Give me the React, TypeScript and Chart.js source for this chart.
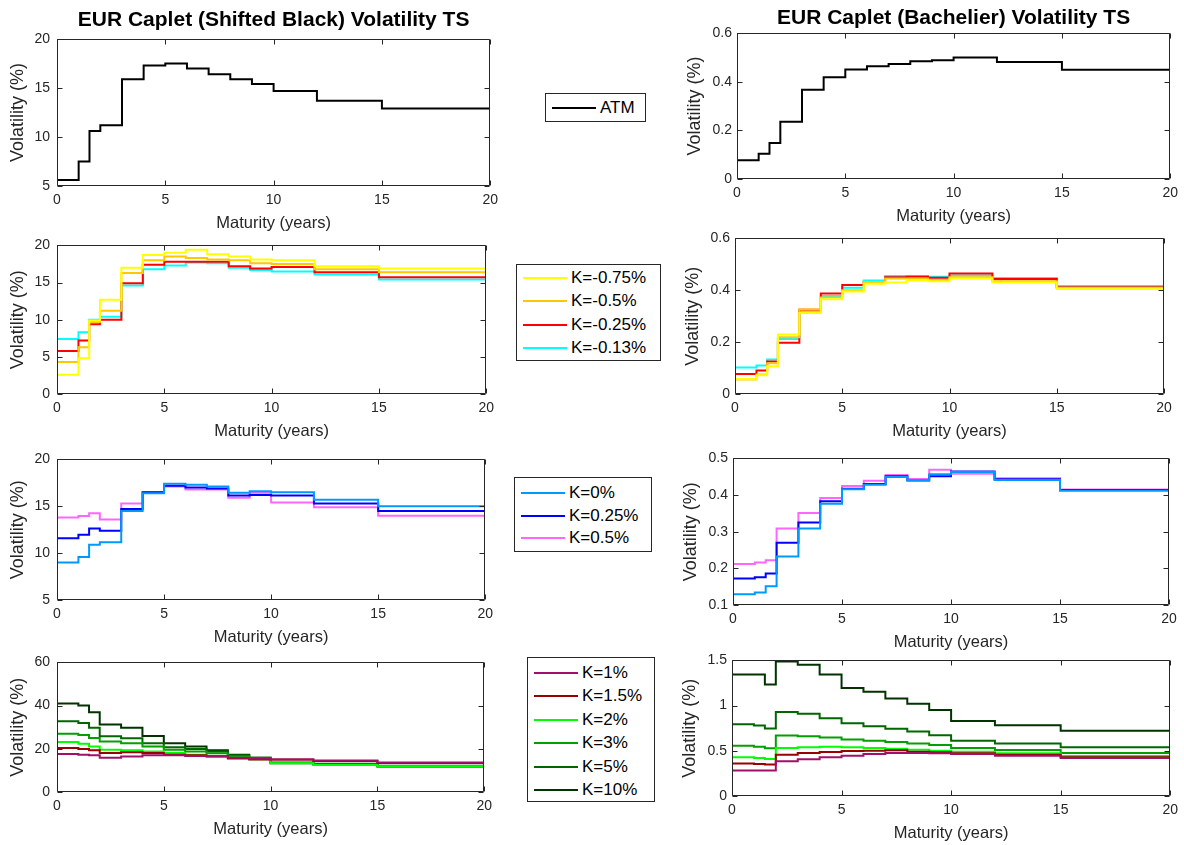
import React, { useEffect, useRef } from 'react';
import { Chart, registerables } from 'chart.js';

Chart.register(...registerables);

const FONT = '"Liberation Sans", Arial, Helvetica, sans-serif';
const AXIS_COLOR = '#262626';

// ---------------- data ----------------
const maturities = [0, 1, 1.5, 2, 3, 4, 5, 6, 7, 8, 9, 10, 12, 15, 20];
const xTicks = [0, 5, 10, 15, 20];

// ATM
const atmBlack = [5.6, 7.5, 10.6, 11.2, 15.9, 17.3, 17.5, 17.0, 16.4, 15.9, 15.4, 14.7, 13.7, 12.9, 12.9];
const atmNormal = [0.077, 0.104, 0.148, 0.235, 0.367, 0.418, 0.45, 0.463, 0.473, 0.484, 0.488, 0.499, 0.481, 0.449, 0.449];

// negative strikes
const blackKm075 = [2.6, 4.8, 9.9, 12.7, 17.0, 18.7, 19.0, 19.4, 18.8, 18.5, 18.1, 18.0, 17.2, 16.9, 16.9];
const blackKm050 = [4.3, 6.3, 9.7, 11.2, 16.3, 18.0, 18.5, 18.3, 18.1, 18.0, 17.6, 17.5, 16.8, 16.4, 16.4];
const blackKm025 = [5.8, 7.2, 9.4, 10.0, 14.9, 17.4, 17.8, 17.8, 17.8, 17.2, 16.9, 17.1, 16.4, 15.7, 15.7];
const blackKm013 = [7.4, 8.3, 10.0, 10.4, 14.6, 16.8, 17.3, 17.7, 17.6, 17.0, 16.7, 16.5, 16.1, 15.4, 15.4];

const normalKm075 = [0.058, 0.072, 0.107, 0.229, 0.312, 0.365, 0.395, 0.425, 0.43, 0.438, 0.435, 0.445, 0.43, 0.405, 0.405];
const normalKm050 = [0.056, 0.075, 0.119, 0.219, 0.326, 0.372, 0.4, 0.432, 0.445, 0.445, 0.44, 0.45, 0.435, 0.41, 0.41];
const normalKm025 = [0.077, 0.091, 0.125, 0.198, 0.325, 0.388, 0.42, 0.432, 0.45, 0.452, 0.448, 0.465, 0.443, 0.412, 0.412];
const normalKm013 = [0.102, 0.11, 0.133, 0.212, 0.315, 0.378, 0.41, 0.438, 0.455, 0.455, 0.452, 0.457, 0.447, 0.416, 0.416];

// low strikes
const blackK0 = [9.0, 9.6, 10.9, 11.15, 14.5, 16.4, 17.4, 17.3, 17.1, 16.45, 16.6, 16.5, 15.7, 15.0, 15.0];
const blackK025 = [11.6, 11.95, 12.64, 12.4, 14.7, 16.5, 17.2, 17.0, 16.9, 16.15, 16.2, 16.15, 15.3, 14.5, 14.5];
const blackK050 = [13.8, 13.95, 14.26, 13.6, 15.3, 16.5, 17.1, 16.8, 16.8, 15.9, 16.45, 15.4, 14.9, 14.0, 14.0];

const normalK0 = [0.129, 0.134, 0.151, 0.232, 0.309, 0.376, 0.416, 0.428, 0.449, 0.441, 0.457, 0.463, 0.441, 0.412, 0.412];
const normalK025 = [0.172, 0.176, 0.186, 0.27, 0.325, 0.383, 0.417, 0.43, 0.451, 0.44, 0.451, 0.464, 0.443, 0.414, 0.414];
const normalK050 = [0.212, 0.216, 0.222, 0.309, 0.351, 0.392, 0.425, 0.439, 0.455, 0.444, 0.469, 0.458, 0.446, 0.415, 0.415];

// high strikes
const blackK1 = [17.6, 17.3, 17.0, 15.8, 16.4, 17.0, 17.0, 16.7, 16.4, 15.8, 15.4, 15.1, 14.6, 13.7, 13.7];
const blackK15 = [20.4, 19.9, 19.3, 18.1, 18.4, 18.1, 17.3, 17.0, 16.6, 15.5, 15.1, 15.1, 14.3, 13.4, 13.4];
const blackK2 = [23.1, 22.3, 21.1, 19.6, 19.3, 18.8, 18.1, 17.2, 16.6, 15.8, 15.2, 13.3, 12.5, 11.9, 11.9];
const blackK3 = [27.0, 26.4, 25.0, 23.4, 22.6, 21.1, 19.6, 18.8, 17.9, 16.4, 15.5, 13.4, 12.7, 11.9, 11.9];
const blackK5 = [32.7, 32.0, 29.7, 25.8, 24.9, 22.6, 20.7, 19.9, 18.8, 17.0, 15.8, 13.6, 13.1, 12.2, 12.2];
const blackK10 = [41.0, 40.0, 36.9, 31.2, 29.7, 25.9, 22.6, 21.1, 19.3, 17.3, 15.8, 13.3, 12.8, 11.8, 11.8];

const normalK1 = [0.282, 0.282, 0.282, 0.384, 0.406, 0.428, 0.446, 0.465, 0.476, 0.476, 0.472, 0.465, 0.446, 0.421, 0.421];
const normalK15 = [0.359, 0.355, 0.348, 0.457, 0.476, 0.487, 0.498, 0.501, 0.505, 0.49, 0.483, 0.472, 0.457, 0.428, 0.428];
const normalK2 = [0.428, 0.421, 0.41, 0.531, 0.538, 0.545, 0.538, 0.531, 0.523, 0.512, 0.501, 0.49, 0.472, 0.443, 0.443];
const normalK3 = [0.556, 0.545, 0.527, 0.67, 0.662, 0.648, 0.626, 0.611, 0.596, 0.582, 0.563, 0.531, 0.509, 0.476, 0.476];
const normalK5 = [0.794, 0.779, 0.746, 0.929, 0.911, 0.86, 0.805, 0.772, 0.743, 0.713, 0.673, 0.611, 0.582, 0.538, 0.538];
const normalK10 = [1.343, 1.343, 1.233, 1.489, 1.453, 1.343, 1.196, 1.153, 1.079, 1.021, 0.951, 0.83, 0.783, 0.721, 0.721];

// tick values
const yTicksBlackAtm = [5, 10, 15, 20];
const yTicksNormalAtm = [0, 0.2, 0.4, 0.6];
const yTicksBlackNeg = [0, 5, 10, 15, 20];
const yTicksNormalNeg = [0, 0.2, 0.4, 0.6];
const yTicksBlackLow = [5, 10, 15, 20];
const yTicksNormalLow = [0.1, 0.2, 0.3, 0.4, 0.5];
const yTicksBlackHigh = [0, 20, 40, 60];
const yTicksNormalHigh = [0, 0.5, 1, 1.5];

// legend labels and colours
const atmLabels = ['ATM'];
const atmColors = ['#000000'];
const negLabels = ['K=-0.75%', 'K=-0.5%', 'K=-0.25%', 'K=-0.13%'];
const negColors = ['#ffff00', '#ffc800', '#ff0000', '#00ffff'];
const lowLabels = ['K=0%', 'K=0.25%', 'K=0.5%'];
const lowColors = ['#0099ff', '#0000ff', '#ff66ff'];
const highLabels = ['K=1%', 'K=1.5%', 'K=2%', 'K=3%', 'K=5%', 'K=10%'];
const highColors = ['#a0106a', '#990000', '#00ff00', '#00a000', '#006600', '#003300'];

const titleBlack = 'EUR Caplet (Shifted Black) Volatility TS';
const titleNormal = 'EUR Caplet (Bachelier) Volatility TS';
const xTitle = 'Maturity (years)';
const yTitle = 'Volatility (%)';

// ---------------- layout ----------------
type Rect = { l: number; t: number; r: number; b: number };
type PanelDef = {
  key: string;
  col: 0 | 1;
  area: Rect;
  title?: string;
  yTicks: number[];
  values: number[][];
  colors: string[];
  labels: string[];
};

const panels: PanelDef[] = [
  { key: 'p1l', col: 0, area: { l: 57, t: 39, r: 492, b: 186 }, title: titleBlack, yTicks: yTicksBlackAtm, values: [atmBlack], colors: atmColors, labels: atmLabels },
  { key: 'p1r', col: 1, area: { l: 737, t: 33, r: 1173, b: 179 }, title: titleNormal, yTicks: yTicksNormalAtm, values: [atmNormal], colors: atmColors, labels: atmLabels },
  { key: 'p2l', col: 0, area: { l: 57, t: 242, r: 488, b: 394 }, yTicks: yTicksBlackNeg, values: [blackKm075, blackKm050, blackKm025, blackKm013], colors: negColors, labels: negLabels },
  { key: 'p2r', col: 1, area: { l: 735, t: 237, r: 1164, b: 394 }, yTicks: yTicksNormalNeg, values: [normalKm075, normalKm050, normalKm025, normalKm013], colors: negColors, labels: negLabels },
  { key: 'p3l', col: 0, area: { l: 57, t: 456, r: 487, b: 600 }, yTicks: yTicksBlackLow, values: [blackK0, blackK025, blackK050], colors: lowColors, labels: lowLabels },
  { key: 'p3r', col: 1, area: { l: 733, t: 457, r: 1169, b: 605 }, yTicks: yTicksNormalLow, values: [normalK0, normalK025, normalK050], colors: lowColors, labels: lowLabels },
  { key: 'p4l', col: 0, area: { l: 57, t: 659, r: 486, b: 792 }, yTicks: yTicksBlackHigh, values: [blackK1, blackK15, blackK2, blackK3, blackK5, blackK10], colors: highColors, labels: highLabels },
  { key: 'p4r', col: 1, area: { l: 732, t: 659, r: 1172, b: 796 }, yTicks: yTicksNormalHigh, values: [normalK1, normalK15, normalK2, normalK3, normalK5, normalK10], colors: highColors, labels: highLabels },
];

const TICK_SIZE = 14;
const XTITLE_SIZE = 16.5;
const YTITLE_SIZE = 18;
const TITLE_SIZE = 21;
const X_BOX_H = 47;
const TOP_MARGIN = 12;

const boxPlugin = {
  id: 'matlabBox',
  afterDatasetsDraw(chart: any) {
    const { ctx, chartArea } = chart;
    const l = Math.round(chartArea.left) + 0.5;
    const t = Math.round(chartArea.top) + 0.5;
    const r = Math.round(chartArea.right) - 0.5;
    const b = Math.round(chartArea.bottom) - 0.5;
    const tl = 5;
    ctx.save();
    ctx.strokeStyle = AXIS_COLOR;
    ctx.lineWidth = 1;
    ctx.beginPath();
    ctx.rect(l, t, r - l, b - t);
    const xs = chart.scales.x;
    const ys = chart.scales.y;
    xs.ticks.forEach((tk: any) => {
      const px = Math.round(xs.getPixelForValue(tk.value)) + 0.5;
      ctx.moveTo(px, b);
      ctx.lineTo(px, b - tl);
      ctx.moveTo(px, t);
      ctx.lineTo(px, t + tl);
    });
    ys.ticks.forEach((tk: any) => {
      const py = Math.round(ys.getPixelForValue(tk.value)) + 0.5;
      ctx.moveTo(l, py);
      ctx.lineTo(l + tl, py);
      ctx.moveTo(r, py);
      ctx.lineTo(r - tl, py);
    });
    ctx.stroke();
    ctx.restore();
  },
};

function PanelChart({ p }: { p: PanelDef }) {
  const ref = useRef<HTMLCanvasElement | null>(null);
  const canvasLeft = p.col === 0 ? 0 : 680;
  const canvasWidth = p.col === 0 ? p.area.r + 12 : 1184 - 680;
  const canvasTop = p.title ? 0 : p.area.t - TOP_MARGIN;
  const canvasHeight = p.area.b + X_BOX_H - canvasTop;

  useEffect(() => {
    if (!ref.current) return;
    const titleLH = TITLE_SIZE * 1.2;
    const titleCenter = p.col === 0 ? 20 : 18;
    const titleTopPad = titleCenter - titleLH / 2;
    const titleBottomPad = p.area.t - titleLH - titleTopPad;
    const yTitleDist = p.col === 0 ? 39 : 42;
    const yTitlePad = p.area.l - yTitleDist - canvasLeft - (YTITLE_SIZE * 1.2) / 2;
    const yMin = p.yTicks[0];
    const yMax = p.yTicks[p.yTicks.length - 1];

    const chart = new Chart(ref.current, {
      type: 'line',
      data: {
        datasets: p.values.map((vals, i) => ({
          label: p.labels[i],
          data: maturities.map((m, j) => ({ x: m, y: vals[j] })),
          borderColor: p.colors[i],
          backgroundColor: p.colors[i],
          borderWidth: 2,
          pointRadius: 0,
          stepped: 'before' as const,
          fill: false,
        })),
      },
      options: {
        animation: false,
        responsive: false,
        maintainAspectRatio: false,
        devicePixelRatio: 1,
        layout: {
          padding: {
            left: 0,
            right: canvasLeft + canvasWidth - p.area.r,
            top: p.title ? 0 : p.area.t - canvasTop,
            bottom: 0,
          },
        },
        plugins: {
          legend: { display: false },
          tooltip: { enabled: false },
          title: p.title
            ? {
                display: true,
                text: p.title,
                fullSize: false,
                color: '#000',
                font: { family: FONT, size: TITLE_SIZE, weight: 'bold' },
                padding: { top: titleTopPad, bottom: titleBottomPad },
              }
            : { display: false },
        },
        scales: {
          x: {
            type: 'linear',
            min: 0,
            max: 20,
            grid: { display: false, drawTicks: false },
            border: { display: false },
            afterBuildTicks: (s: any) => {
              s.ticks = xTicks.map((v) => ({ value: v }));
            },
            afterFit: (s: any) => {
              s.height = X_BOX_H;
            },
            ticks: {
              color: AXIS_COLOR,
              font: { family: FONT, size: TICK_SIZE },
              padding: 6,
              maxRotation: 0,
              autoSkip: false,
              callback: (v: any) => String(v),
            },
            title: {
              display: true,
              text: xTitle,
              color: AXIS_COLOR,
              font: { family: FONT, size: XTITLE_SIZE },
              padding: { top: 0, bottom: 0 },
            },
          },
          y: {
            type: 'linear',
            min: yMin,
            max: yMax,
            grid: { display: false, drawTicks: false },
            border: { display: false },
            afterBuildTicks: (s: any) => {
              s.ticks = p.yTicks.map((v) => ({ value: v }));
            },
            afterFit: (s: any) => {
              s.width = p.area.l - canvasLeft;
            },
            ticks: {
              color: AXIS_COLOR,
              font: { family: FONT, size: TICK_SIZE },
              padding: p.col === 0 ? 7 : 5,
              autoSkip: false,
              callback: (v: any) => String(v),
            },
            title: {
              display: true,
              text: yTitle,
              color: AXIS_COLOR,
              font: { family: FONT, size: YTITLE_SIZE },
              padding: { top: yTitlePad, bottom: 0 },
            },
          },
        },
      },
      plugins: [boxPlugin],
    } as any);
    return () => chart.destroy();
  }, []);

  return (
    <canvas
      ref={ref}
      width={canvasWidth}
      height={canvasHeight}
      style={{
        position: 'absolute',
        left: canvasLeft,
        top: canvasTop,
        width: canvasWidth,
        height: canvasHeight,
      }}
    />
  );
}

type LegendDef = {
  key: string;
  left: number;
  top: number;
  width: number;
  height: number;
  firstCenter: number;
  spacing: number;
  labels: string[];
  colors: string[];
};

const legends: LegendDef[] = [
  { key: 'lg1', left: 545, top: 93, width: 101, height: 29, firstCenter: 15, spacing: 23, labels: atmLabels, colors: atmColors },
  { key: 'lg2', left: 516, top: 264, width: 145, height: 97, firstCenter: 14, spacing: 23.3, labels: negLabels, colors: negColors },
  { key: 'lg3', left: 514, top: 477, width: 138, height: 75, firstCenter: 16, spacing: 22.5, labels: lowLabels, colors: lowColors },
  { key: 'lg4', left: 527, top: 657, width: 128, height: 145, firstCenter: 16, spacing: 23.4, labels: highLabels, colors: highColors },
];

function Legend({ d }: { d: LegendDef }) {
  return (
    <div
      style={{
        position: 'absolute',
        left: d.left,
        top: d.top,
        width: d.width,
        height: d.height,
        boxSizing: 'border-box',
        border: '1px solid #262626',
        background: '#fff',
        fontFamily: FONT,
        fontSize: 17,
        color: '#000',
      }}
    >
      {d.labels.map((lab, i) => {
        const cy = d.firstCenter + i * d.spacing - 1;
        return (
          <React.Fragment key={lab}>
            <div
              style={{
                position: 'absolute',
                left: 6,
                top: cy - 1,
                width: 44,
                height: 2,
                background: d.colors[i],
              }}
            />
            <div
              style={{
                position: 'absolute',
                left: 54,
                top: cy - 10,
                height: 20,
                lineHeight: '20px',
                whiteSpace: 'nowrap',
              }}
            >
              {lab}
            </div>
          </React.Fragment>
        );
      })}
    </div>
  );
}

export default function App() {
  return (
    <div style={{ position: 'absolute', left: 0, top: 0, width: 1184, height: 845, background: '#fff' }}>
      {panels.map((p) => (
        <PanelChart key={p.key} p={p} />
      ))}
      {legends.map((d) => (
        <Legend key={d.key} d={d} />
      ))}
    </div>
  );
}
